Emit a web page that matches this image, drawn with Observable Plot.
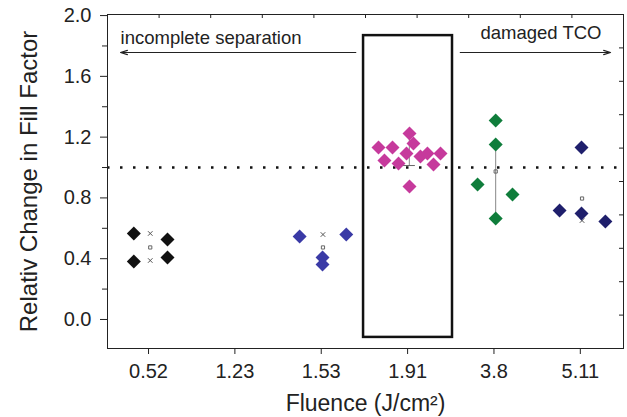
<!DOCTYPE html>
<html><head><meta charset="utf-8">
<script src="https://cdn.jsdelivr.net/npm/d3@7"></script>
<script src="https://cdn.jsdelivr.net/npm/@observablehq/plot@0.6"></script>
<style>body{margin:0;background:#fff}svg{display:block}</style>
</head><body><div id="chart"></div>
<script>
// Category tick labels (fluence, J/cm²)
const fluence = ["0.52", "1.23", "1.53", "1.91", "3.8", "5.11"];
const yTicks = [0, 0.4, 0.8, 1.2, 1.6, 2.0];
const yMinor = [0.2, 0.6, 1.0, 1.4, 1.8];

// Series: category index, horizontal jitter within category, value
const blackCat = 0, blackOff = [-0.17, -0.17, 0.22, 0.22], blackVal = [0.566, 0.382, 0.526, 0.408];
const blueCat = 2, blueOff = [-0.25, 0.29, 0.015, 0.015], blueVal = [0.546, 0.559, 0.408, 0.362];
const magCat = 3,
  magOff = [-0.337, -0.175, 0.022, 0.068, -0.013, -0.268, -0.105, 0.149, 0.23, 0.381, 0.3, 0.022],
  magVal = [1.132, 1.132, 1.224, 1.158, 1.092, 1.046, 1.026, 1.072, 1.092, 1.092, 1.02, 0.875];
const greenCat = 4, greenOff = [0.02, 0.02, -0.19, 0.215, 0.02], greenVal = [1.309, 1.151, 0.888, 0.822, 0.664];
const navyCat = 5, navyOff = [0.014, -0.24, 0.014, 0.29], navyVal = [1.132, 0.717, 0.697, 0.645];
const colors = {black: "#111111", blue: "#3a3aa6", magenta: "#c63a9c", green: "#0f7d3b", navy: "#1f1f6c"};

// Box-plot glyphs: category, value
const crossCat = [0, 0, 2, 5], crossVal = [0.566, 0.388, 0.559, 0.651];
const meanCat = [0, 2, 4, 5], meanVal = [0.474, 0.474, 0.974, 0.796];
const whiskCat = [3, 4], whiskLo = [1.013, 0.684], whiskHi = [1.184, 1.112];
const glyphOff = 0.02;

// Annotations
const refLine = 1.0;
const windowBox = {x1: 2.49, x2: 3.52, y1: -0.118, y2: 1.868};
const leftArrow = {x1: 2.40, x2: -0.324, y: 1.757};
const rightArrow = {x1: 3.61, x2: 5.35, y: 1.757};
const leftLabel = {text: "incomplete separation", x: -0.324, y: 1.816};
const rightLabel = {text: "damaged TCO", x: 5.245, y: 1.849};

const xDomain = [-0.475, 5.5], yDomain = [-0.191, 2.007];
const topTicks = d3.range(1, 10).map(k => xDomain[0] + k * (xDomain[1] - xDomain[0]) / 10);
const rightTicks = d3.range(1, 10).map(k => yDomain[0] + k * (yDomain[1] - yDomain[0]) / 10);

function pts(cat, off, val, color) {
  return off.map((o, i) => ({x: cat + o, y: val[i], color}));
}
const points = [
  ...pts(blackCat, blackOff, blackVal, colors.black),
  ...pts(blueCat, blueOff, blueVal, colors.blue),
  ...pts(magCat, magOff, magVal, colors.magenta),
  ...pts(greenCat, greenOff, greenVal, colors.green),
  ...pts(navyCat, navyOff, navyVal, colors.navy)
];
const crosses = crossCat.map((c, i) => ({x: c + glyphOff, y: crossVal[i]}));
const means = meanCat.map((c, i) => ({x: c + glyphOff, y: meanVal[i]}));
const whisk = whiskCat.map((c, i) => ({x: c + glyphOff, y1: whiskLo[i], y2: whiskHi[i]}));

const W = 627, H = 417, mL = 107, mR = 4, mT = 14, mB = 69;
const chart = Plot.plot({
  width: W, height: H, marginLeft: mL, marginRight: mR, marginTop: mT, marginBottom: mB,
  style: {fontFamily: "'Liberation Sans', Arial, sans-serif", fontSize: "20px", color: "#222", background: "#fff"},
  x: {domain: xDomain},
  y: {domain: yDomain},
  marks: [
    Plot.ruleY([refLine], {stroke: "#111", strokeWidth: 2.5, strokeDasharray: "2.5,10.5"}),
    Plot.ruleX(whisk, {x: "x", y1: "y1", y2: "y2", stroke: "#888", strokeWidth: 1}),
    Plot.ruleY([whisk[0]], {y: "y1", x1: d => d.x - 0.07, x2: d => d.x + 0.07, stroke: "#666", strokeWidth: 1}),
    Plot.dot(crosses, {x: "x", y: "y", symbol: "times", r: 2.2, stroke: "#555", strokeWidth: 1}),
    Plot.dot(means, {x: "x", y: "y", symbol: "square", r: 1.8, stroke: "#666", fill: "none", strokeWidth: 1}),
    Plot.dot(points, {x: "x", y: "y", symbol: "diamond2", r: 6.3, fill: "color", stroke: "none"}),
    Plot.rect([windowBox], {x1: "x1", x2: "x2", y1: "y1", y2: "y2", fill: "none", stroke: "#111", strokeWidth: 2.5}),
    Plot.arrow([leftArrow, rightArrow], {x1: "x1", x2: "x2", y1: "y", y2: "y", stroke: "#222", strokeWidth: 1.2, headLength: 9, headAngle: 35}),
    Plot.text([leftLabel], {x: "x", y: "y", text: "text", textAnchor: "start", lineAnchor: "bottom", fontSize: 18.5, fill: "#222"}),
    Plot.text([rightLabel], {x: "x", y: "y", text: "text", textAnchor: "end", lineAnchor: "bottom", fontSize: 18.5, fill: "#222"}),
    Plot.frame({stroke: "#222", strokeWidth: 1}),
    Plot.axisX(d3.range(fluence.length), {tickFormat: i => fluence[i], tickSize: 6, tickPadding: 9, label: null}),
    Plot.axisY(yTicks, {tickFormat: d3.format(".1f"), tickSize: 7, tickPadding: 9, label: null}),
    Plot.axisY(yMinor, {tickSize: 5, tickFormat: () => "", label: null}),
    Plot.tickX(topTicks, {x: d => d, insetBottom: H - mT - mB - 4, stroke: "#222"}),
    Plot.tickY(rightTicks, {y: d => d, insetLeft: W - mL - mR - 4, stroke: "#222"}),
    Plot.text(["Relativ Change in Fill Factor"], {frameAnchor: "left", textAnchor: "middle", rotate: -90, dx: -78, fontSize: 24, fill: "#222"}),
    Plot.text(["Fluence (J/cm²)"], {frameAnchor: "bottom", textAnchor: "middle", dy: 62, fontSize: 23, fill: "#222"})
  ]
});
document.getElementById("chart").append(chart);
</script>
</body></html>
